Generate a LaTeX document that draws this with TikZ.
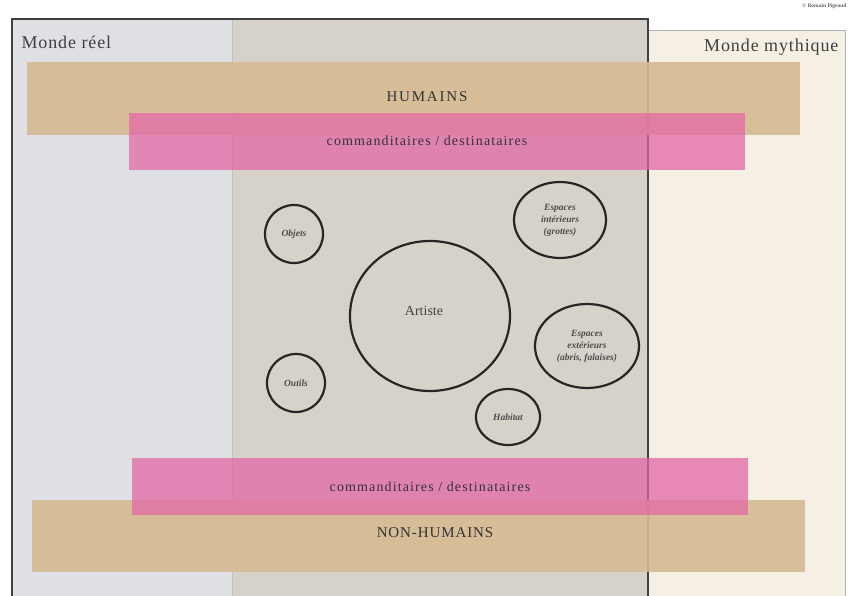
\documentclass[tikz,border=0pt]{standalone}
\usepackage{fontspec}
\setmainfont{Liberation Serif}
\usepackage{xcolor}
\usetikzlibrary{shapes.geometric}
\definecolor{reelgray}{HTML}{DFE0E4}
\definecolor{mixgray}{HTML}{D6D2CA}
\definecolor{mythcream}{HTML}{F6EFE3}
\definecolor{bandtan}{HTML}{D6BA92}
\definecolor{bandpink}{HTML}{E468A6}
\tikzset{
  band/.style={fill=bandtan, fill opacity=0.9, text opacity=1},
  pinkband/.style={fill=bandpink, fill opacity=0.75, text opacity=1},
  bandtext/.style={text=black!80, font=\fontsize{14}{16}\selectfont\addfontfeature{LetterSpace=8}},
  lieu/.style={draw=black!85, line width=2.2pt, ellipse, inner sep=0pt, align=center,
    font=\itshape\bfseries\fontsize{9.5}{12}\selectfont, text=black!70},
  monde/.style={font=\fontsize{18}{20}\selectfont\addfontfeature{LetterSpace=5}, text=black!75}
}
\begin{document}
\begin{tikzpicture}[x=1pt,y=-1pt]
        \useasboundingbox (0,0) rectangle (854,596);
        \fill[white] (0,0) rectangle (854,596);
        \fill[reelgray] (12,19) rectangle (232,600);
        \fill[mixgray] (232,19) rectangle (648,600);
        \fill[mythcream] (648,30) rectangle (845,600);
        \draw[black!25, line width=0.6pt] (232,19) -- (232,600);
        \draw[black!30, line width=0.6pt] (648,30) -- (845,30) -- (845,600);
        \draw[black!75, line width=2.4pt] (12,600) -- (12,19) -- (648,19) -- (648,600);
        \node[monde, anchor=west] (reel) at (18,42) {Monde réel};
        \node[monde, anchor=east] (mythique) at (842,47) {Monde mythique};
        \node[font=\bfseries\fontsize{5.5}{6}\selectfont, text=black!60, anchor=east] (copyright) at (850,6) {© Romain Pigeaud};
        \node[band, minimum width=773pt, minimum height=73pt] (humains) at (413.5,98.5) {};
        \node[pinkband, minimum width=616pt, minimum height=57pt] (cdtop) at (437,141.5) {};
        \node[band, minimum width=773pt, minimum height=72pt] (nonhumains) at (418.5,536) {};
        \node[pinkband, minimum width=616pt, minimum height=57pt] (cdbottom) at (440,486.5) {};
        \node[bandtext, font=\fontsize{15}{17}\selectfont\addfontfeature{LetterSpace=12}] at (427,97) {HUMAINS};
        \node[bandtext] at (427,141) {commanditaires / destinataires};
        \node[bandtext] at (430,487) {commanditaires / destinataires};
        \node[bandtext, font=\fontsize{15}{17}\selectfont\addfontfeature{LetterSpace=6}] at (435,533) {NON-HUMAINS};
        \node[draw=black!85, line width=2.2pt, ellipse, minimum width=160pt, minimum height=150pt] (artiste) at (430,316) {};
        \node[font=\fontsize{14}{16}\selectfont, text=black!75] at (424,311) {Artiste};
        \node[lieu, minimum width=58pt, minimum height=58pt] (objets) at (294,234) {Objets};
        \node[lieu, minimum width=92pt, minimum height=76pt] (espint) at (560,220) {Espaces\\intérieurs\\(grottes)};
        \node[lieu, minimum width=104pt, minimum height=84pt] (espext) at (587,346) {Espaces\\extérieurs\\(abris, falaises)};
        \node[lieu, minimum width=58pt, minimum height=58pt] (outils) at (296,383) {Outils};
        \node[lieu, minimum width=64pt, minimum height=56pt] (habitat) at (508,417) {Habitat};
    \end{tikzpicture}
\end{document}
